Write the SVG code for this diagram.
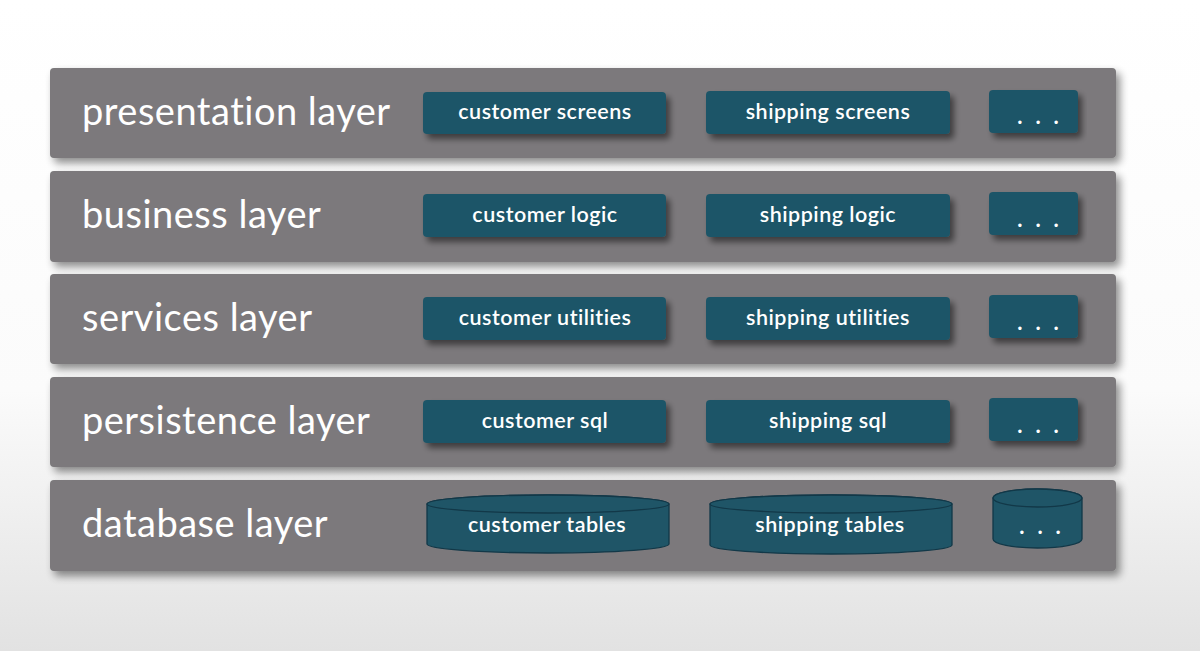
<svg xmlns="http://www.w3.org/2000/svg" width="1200" height="651" viewBox="0 0 1200 651">
<defs>
<linearGradient id="bg" x1="0" y1="0" x2="0" y2="1">
<stop offset="0" stop-color="#ffffff"/>
<stop offset="0.6" stop-color="#fbfbfb"/>
<stop offset="1" stop-color="#e2e2e2"/>
</linearGradient>
<filter id="sh" x="-5%" y="-20%" width="110%" height="150%">
<feGaussianBlur in="SourceAlpha" stdDeviation="4"/>
<feOffset dx="4" dy="5" result="b"/>
<feComponentTransfer><feFuncA type="linear" slope="0.45"/></feComponentTransfer>
<feMerge><feMergeNode/><feMergeNode in="SourceGraphic"/></feMerge>
</filter>
<filter id="sh2" x="-10%" y="-30%" width="120%" height="170%">
<feGaussianBlur in="SourceAlpha" stdDeviation="3"/>
<feOffset dx="4" dy="5"/>
<feComponentTransfer><feFuncA type="linear" slope="0.5"/></feComponentTransfer>
<feMerge><feMergeNode/><feMergeNode in="SourceGraphic"/></feMerge>
</filter>
</defs>
<style>
.band{fill:#7b797b;filter:url(#sh)}
.box{fill:#1f5567;filter:url(#sh2)}
.cyl{fill:#1f5567;stroke:#123848;stroke-width:1.3}
.lbl{font-family:Lato,"Noto Sans","Liberation Sans",sans-serif;font-size:38px;letter-spacing:0.5px;fill:#ffffff}
.t{font-family:Lato,"Noto Sans","Liberation Sans",sans-serif;font-size:21.5px;letter-spacing:0.5px;fill:#ffffff;text-anchor:middle;font-weight:600}
.d{font-family:Lato,"Noto Sans","Liberation Sans",sans-serif;font-size:22px;fill:#ffffff;text-anchor:middle;font-weight:700;letter-spacing:13px}
</style>
<rect width="1200" height="651" fill="url(#bg)"/>

<g id="presentation-layer">
<rect class="band" x="50" y="68" width="1066" height="90" rx="4"/>
<text class="lbl" x="82" y="125">presentation layer</text>
</g>
<g id="customer-screens"><rect class="box" x="423" y="92" width="243" height="42" rx="4"/><text class="t" x="545" y="119">customer screens</text></g>
<g id="shipping-screens"><rect class="box" x="706" y="91" width="244" height="43" rx="4"/><text class="t" x="828" y="119">shipping screens</text></g>
<g id="more-presentation"><rect class="box" x="989" y="90" width="89" height="43" rx="4"/><text class="d" x="1044.5" y="124">...</text></g>

<g id="business-layer">
<rect class="band" x="50" y="171" width="1066" height="91" rx="4"/>
<text class="lbl" x="82" y="228">business layer</text>
</g>
<g id="customer-logic"><rect class="box" x="423" y="194" width="243" height="43" rx="4"/><text class="t" x="545" y="222">customer logic</text></g>
<g id="shipping-logic"><rect class="box" x="706" y="194" width="244" height="43" rx="4"/><text class="t" x="828" y="222">shipping logic</text></g>
<g id="more-business"><rect class="box" x="989" y="192" width="89" height="43" rx="4"/><text class="d" x="1044.5" y="227">...</text></g>

<g id="services-layer">
<rect class="band" x="50" y="274" width="1066" height="90" rx="4"/>
<text class="lbl" x="82" y="331">services layer</text>
</g>
<g id="customer-utilities"><rect class="box" x="423" y="297" width="243" height="43" rx="4"/><text class="t" x="545" y="325">customer utilities</text></g>
<g id="shipping-utilities"><rect class="box" x="706" y="297" width="244" height="43" rx="4"/><text class="t" x="828" y="325">shipping utilities</text></g>
<g id="more-services"><rect class="box" x="989" y="295" width="89" height="43" rx="4"/><text class="d" x="1044.5" y="330">...</text></g>

<g id="persistence-layer">
<rect class="band" x="50" y="377" width="1066" height="90" rx="4"/>
<text class="lbl" x="82" y="434">persistence layer</text>
</g>
<g id="customer-sql"><rect class="box" x="423" y="400" width="243" height="43" rx="4"/><text class="t" x="545" y="428">customer sql</text></g>
<g id="shipping-sql"><rect class="box" x="706" y="400" width="244" height="43" rx="4"/><text class="t" x="828" y="428">shipping sql</text></g>
<g id="more-persistence"><rect class="box" x="989" y="398" width="89" height="43" rx="4"/><text class="d" x="1044.5" y="433">...</text></g>

<g id="database-layer">
<rect class="band" x="50" y="480" width="1066" height="91" rx="4"/>
<text class="lbl" x="82" y="537">database layer</text>
</g>
<g id="customer-tables">
<path class="cyl" d="M427,504 L427,544 A121,9 0 0 0 669,544 L669,504 A121,9 0 0 0 427,504 Z"/>
<ellipse class="cyl" cx="548" cy="504" rx="121" ry="9"/>
<text class="t" x="547" y="532">customer tables</text>
</g>
<g id="shipping-tables">
<path class="cyl" d="M710,504 L710,545 A121,9 0 0 0 952,545 L952,504 A121,9 0 0 0 710,504 Z"/>
<ellipse class="cyl" cx="831" cy="504" rx="121" ry="9"/>
<text class="t" x="830" y="532">shipping tables</text>
</g>
<g id="more-database">
<path class="cyl" d="M993,498 L993,539 A44.5,9 0 0 0 1082,539 L1082,498 A44.5,9 0 0 0 993,498 Z"/>
<ellipse class="cyl" cx="1037.5" cy="498" rx="44.5" ry="9"/>
<text class="d" x="1046.5" y="534">...</text>
</g>
<g id="connectors"/>
</svg>
